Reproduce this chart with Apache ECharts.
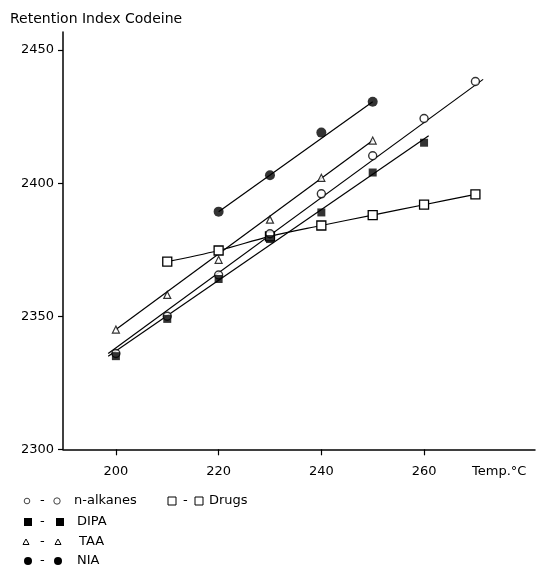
<!DOCTYPE html>
<html>
<head>
<meta charset="utf-8">
<script src="https://cdn.jsdelivr.net/npm/echarts@6/dist/echarts.min.js"></script>
<style>
html,body{margin:0;padding:0;background:#fff;}
#chart{width:540px;height:567px;}
</style>
</head>
<body>
<div id="chart"></div>
<script>
// ---- data ----
var xTicks = [200, 220, 240, 260];
var yTicks = [2300, 2350, 2400, 2450];

var nAlkTemps = [200, 210, 220, 230, 240, 250, 260, 270];
var nAlkValues = [2336, 2350, 2365.5, 2381, 2396, 2410.3, 2424.3, 2438.2];
var nAlkFit = [[198.5, 2336], [271.5, 2439]];

var dipaTemps = [200, 210, 220, 230, 240, 250, 260];
var dipaValues = [2335, 2349, 2364, 2379, 2389, 2404, 2415.2];
var dipaFit = [[198.5, 2335], [260.9, 2417.8]];

var taaTemps = [200, 210, 220, 230, 240, 250];
var taaValues = [2345, 2358, 2371.2, 2386.3, 2402, 2416];
var taaFit = [[200, 2345], [250, 2416]];

var niaTemps = [220, 230, 240, 250];
var niaValues = [2389.3, 2403, 2419, 2430.6];
var niaFit = [[220, 2389.3], [250, 2430.6]];

var drugsTemps = [210, 220, 230, 240, 250, 260, 270];
var drugsValues = [2370.5, 2374.7, 2380, 2384.1, 2388, 2391.9, 2395.8];

var yTitle = 'Retention Index Codeine';
var xTitle = 'Temp.\u00B0C';
var legendLabels = ['n-alkanes', 'DIPA', 'TAA', 'NIA', 'Drugs'];

function pairs(xs, ys) { return xs.map(function (x, i) { return [x, ys[i]]; }); }

var FONT = 'DejaVu Sans';
var chart = echarts.init(document.getElementById('chart'), null, {renderer: 'canvas'});

var lineStyle = {color: '#000', width: 1.2};

function fitSeries(d) {
  return {type: 'line', data: d, symbol: 'none', lineStyle: lineStyle, z: 2, silent: true, animation: false};
}

var series = [
  fitSeries(nAlkFit),
  fitSeries(dipaFit),
  fitSeries(taaFit),
  fitSeries(niaFit),
  {type: 'line', data: pairs(drugsTemps, drugsValues), smooth: 0.35, symbol: 'rect', symbolSize: 9,
   itemStyle: {color: '#fff', borderColor: '#000', borderWidth: 1.3}, lineStyle: lineStyle, z: 3, animation: false},
  {type: 'scatter', data: pairs(nAlkTemps, nAlkValues), symbol: 'circle', symbolSize: 8,
   itemStyle: {color: '#fff', borderColor: '#000', borderWidth: 1.4}, z: 4, animation: false},
  {type: 'scatter', data: pairs(dipaTemps, dipaValues), symbol: 'rect', symbolSize: 8,
   itemStyle: {color: '#000'}, z: 5, animation: false},
  {type: 'scatter', data: pairs(taaTemps, taaValues), symbol: 'triangle', symbolSize: 7,
   itemStyle: {color: '#fff', borderColor: '#000', borderWidth: 1.2}, z: 5, animation: false},
  {type: 'scatter', data: pairs(niaTemps, niaValues), symbol: 'circle', symbolSize: 10,
   itemStyle: {color: '#000'}, z: 5, animation: false}
];

// legend drawn as graphic elements
var txt = function (s, x, y, size) {
  return {type: 'text', x: x, y: y, style: {text: s, font: (size || 13) + 'px "' + FONT + '"', fill: '#000', textVerticalAlign: 'middle'}};
};
var graphics = [];
graphics.push(txt(yTitle, 10, 19, 14));
graphics.push(txt(xTitle, 472, 472, 13));
var rowY = [501, 522, 542, 561];
// row 1: n-alkanes
graphics.push({type: 'circle', shape: {cx: 27, cy: rowY[0], r: 2.8}, style: {fill: '#fff', stroke: '#444', lineWidth: 1}});
graphics.push(txt('-', 40, rowY[0]));
graphics.push({type: 'circle', shape: {cx: 57, cy: rowY[0], r: 3.2}, style: {fill: '#fff', stroke: '#444', lineWidth: 1}});
graphics.push(txt(legendLabels[0], 74, rowY[0]));
// Drugs
graphics.push({type: 'rect', shape: {x: 168, y: rowY[0] - 4, width: 8, height: 8}, style: {fill: '#fff', stroke: '#000', lineWidth: 1}});
graphics.push(txt('-', 183, rowY[0]));
graphics.push({type: 'rect', shape: {x: 195, y: rowY[0] - 4, width: 8, height: 8}, style: {fill: '#fff', stroke: '#000', lineWidth: 1}});
graphics.push(txt(legendLabels[4], 209, rowY[0]));
// row 2: DIPA
graphics.push({type: 'rect', shape: {x: 24, y: rowY[1] - 4, width: 8, height: 8}, style: {fill: '#000'}});
graphics.push(txt('-', 40, rowY[1]));
graphics.push({type: 'rect', shape: {x: 56, y: rowY[1] - 4, width: 8, height: 8}, style: {fill: '#000'}});
graphics.push(txt(legendLabels[1], 77, rowY[1]));
// row 3: TAA
graphics.push({type: 'polygon', shape: {points: [[26, rowY[2] - 3], [29, rowY[2] + 2.5], [23, rowY[2] + 2.5]]}, style: {fill: '#fff', stroke: '#000', lineWidth: 1}});
graphics.push(txt('-', 40, rowY[2]));
graphics.push({type: 'polygon', shape: {points: [[58, rowY[2] - 3], [61, rowY[2] + 2.5], [55, rowY[2] + 2.5]]}, style: {fill: '#fff', stroke: '#000', lineWidth: 1}});
graphics.push(txt(legendLabels[2], 79, rowY[2]));
// row 4: NIA
graphics.push({type: 'circle', shape: {cx: 28, cy: rowY[3], r: 4}, style: {fill: '#000'}});
graphics.push(txt('-', 40, rowY[3]));
graphics.push({type: 'circle', shape: {cx: 58, cy: rowY[3], r: 4}, style: {fill: '#000'}});
graphics.push(txt(legendLabels[3], 77, rowY[3]));

var option = {
  backgroundColor: '#fff',
  animation: false,
  grid: {left: 63, right: 5, top: 32, bottom: 117.7, containLabel: false},
  xAxis: {
    type: 'value', min: 189.7, max: 281.6,
    splitLine: {show: false},
    axisLine: {show: true, lineStyle: {color: '#000', width: 1.5}},
    axisTick: {show: true, customValues: xTicks, length: 6, lineStyle: {color: '#000', width: 1.2}},
    axisLabel: {customValues: xTicks, color: '#000', fontSize: 13, fontFamily: FONT, margin: 16,
      formatter: function (v) { return String(v); }}
  },
  yAxis: {
    type: 'value', min: 2300, max: 2456.8,
    splitLine: {show: false},
    axisLine: {show: true, lineStyle: {color: '#000', width: 1.5}},
    axisTick: {show: true, customValues: yTicks, length: 5, lineStyle: {color: '#000', width: 1.2}},
    axisLabel: {customValues: yTicks, color: '#000', fontSize: 13, fontFamily: FONT, margin: 9,
      formatter: function (v) { return String(v); }}
  },
  series: series,
  graphic: graphics
};
chart.setOption(option);
</script>
</body>
</html>
